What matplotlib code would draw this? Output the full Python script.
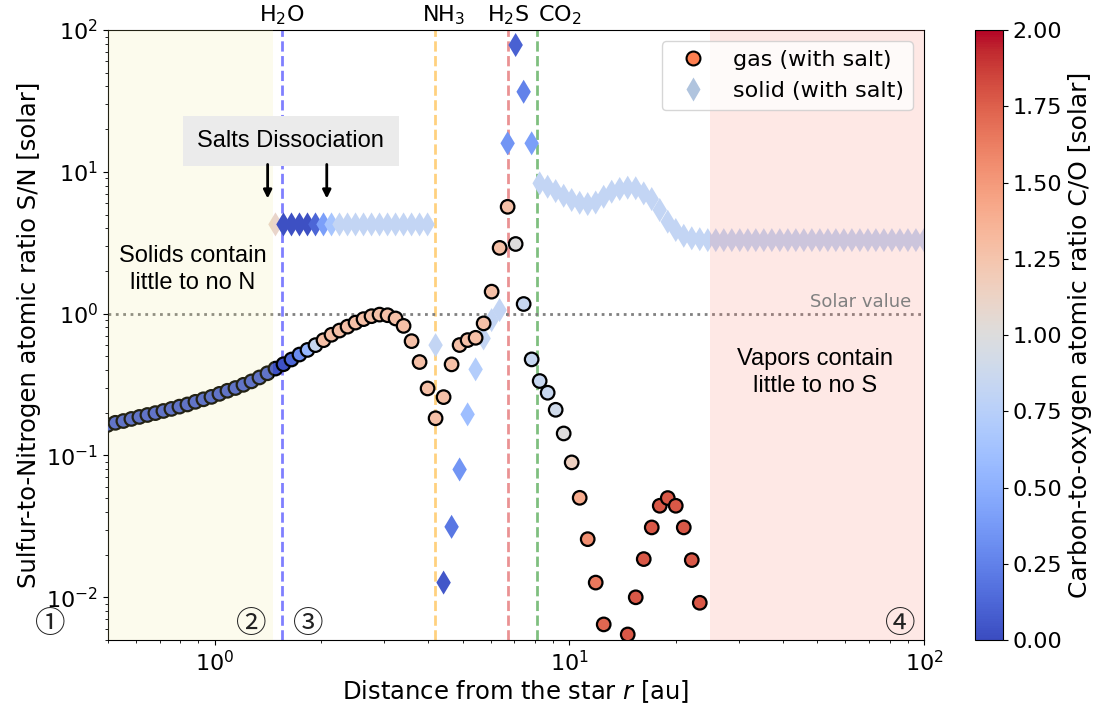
import numpy as np
import matplotlib
matplotlib.use('Agg')
import matplotlib.pyplot as plt
from matplotlib.lines import Line2D

# radial grid of the disk model [au]
r = np.geomspace(0.498, 100, 103)

# gas phase S/N and C/O, grid cells 0..74 (nan = below plotted range)
gas_sn = [0.164, 0.170, 0.175, 0.181, 0.187, 0.193, 0.199, 0.206, 0.213, 0.221,
          0.229, 0.239, 0.249, 0.259, 0.272, 0.286, 0.299, 0.315, 0.333, 0.355,
          0.380, 0.410, 0.440, 0.475, 0.515, 0.555, 0.600, 0.650, 0.710, 0.760,
          0.810, 0.865, 0.915, 0.960, 0.985, 0.975, 0.925, 0.820, 0.640, 0.456,
          0.297, 0.183, 0.258, 0.439, 0.601, 0.651, 0.676, 0.854, 1.43, 2.91,
          5.67, 3.10, 1.17, 0.476, 0.335, 0.277, 0.210, 0.143, 0.0894, 0.0503,
          0.0257, 0.0127, 0.00644, np.nan, np.nan, 0.00547, 0.0100, 0.0186, 0.0311, 0.0442,
          0.0501, 0.0442, 0.0311, 0.0183, 0.00915]
gas_co = [0.1] * 21 + [0.03, 0.03, 0.12, 0.3, 0.55, 0.85] + [1.28] * 24 + \
         [1.0, 0.85, 0.85, 0.85, 0.85, 0.9, 1.0, 1.15, 1.4, 1.55,
          1.65, 1.72, 1.75, 1.75, 1.78, 1.78, 1.78, 1.78, 1.78, 1.78,
          1.78, 1.78, 1.78, 1.78]

# solid phase S/N and C/O, grid cells 21..102
solid_start = 21
solid_sn = [4.26] * 20 + \
           [0.60, 0.0127, 0.0314, 0.0797, 0.195, 0.405, 0.669, 0.901, 1.06, 15.9,
            78.4, 36.7, 15.9, 8.30, 7.85, 7.32, 6.78, 6.33, 6.05, 5.93,
            6.08, 6.67, 7.24, 7.57, 7.73, 7.66, 7.05, 6.43, 5.38, 4.45,
            3.89, 3.54, 3.40, 3.35] + [3.30] * 28
solid_co = [1.1, 0.02, 0.02, 0.02, 0.02, 0.12, 0.4, 0.65] + [0.82] * 13 + \
           [0.05, 0.2, 0.35, 0.6, 0.72, 0.82, 0.82, 0.82, 0.35, 0.1, 0.25, 0.4] + [0.82] * 49

# snowlines [au]
ice_names = [r'H$_2$O', r'NH$_3$', r'H$_2$S', r'CO$_2$']
ice_r = [1.55, 4.18, 6.71, 8.11]
ice_label_r = [1.55, 4.43, 6.71, 9.41]
ice_colors = ['blue', 'orange', 'tab:red', 'green']

gas_sn = np.array(gas_sn)
gas_r = r[:len(gas_sn)]
solid_r = r[solid_start:solid_start + len(solid_sn)]

fig = plt.figure(figsize=(11.04, 7.05), dpi=100)
ax = fig.add_axes([0.0978, 0.0922, 0.7391, 0.8652])
cax = fig.add_axes([0.883, 0.0922, 0.0254, 0.8652])

cmap = plt.get_cmap('coolwarm')
norm = matplotlib.colors.Normalize(0, 2)

ax.scatter(solid_r, solid_sn, c=solid_co, cmap=cmap, norm=norm, marker='d',
           s=150, linewidths=0, zorder=2)
ax.scatter(gas_r, gas_sn, c=gas_co, cmap=cmap, norm=norm, marker='o',
           s=95, edgecolors='black', linewidths=1.6, zorder=3)

# regions
ax.axvspan(0.4, 1.46, color='khaki', alpha=0.15, lw=0, zorder=4)
ax.axvspan(25, 120, color='salmon', alpha=0.18, lw=0, zorder=4)

for name, x, xl, c in zip(ice_names, ice_r, ice_label_r, ice_colors):
    ax.axvline(x, color=c, ls='--', lw=2, alpha=0.5, zorder=1)
    ax.text(xl, 1.005, name, transform=ax.get_xaxis_transform(), ha='center',
            va='bottom', fontsize=16)

ax.axhline(1, color='gray', ls=':', lw=2, zorder=1)
ax.text(0.985, 1.04, 'Solar value', transform=ax.get_yaxis_transform(),
        ha='right', va='bottom', color='gray', fontsize=13, zorder=6)

ax.set_xscale('log')
ax.set_yscale('log')
ax.set_xlim(0.5, 100)
ax.set_ylim(0.005, 100)
ax.tick_params(labelsize=16)
ax.set_xlabel('Distance from the star $r$ [au]', fontsize=17.5, labelpad=2)
ax.set_ylabel('Sulfur-to-Nitrogen atomic ratio S/N [solar]', fontsize=17.5)

# annotations
ax.text(1.64, 16.5, 'Salts Dissociation', ha='center', va='center', fontsize=17,
        family='Liberation Sans', zorder=6,
        bbox=dict(boxstyle='square,pad=0.6', fc='#ebebeb', ec='none'))
for xa in [1.41, 2.07]:
    ax.annotate('', xy=(xa, 6.2), xytext=(xa, 11.8), zorder=6,
                arrowprops=dict(arrowstyle='-|>', color='black', lw=2, mutation_scale=12))
ax.text(0.868, 2.05, 'Solids contain\nlittle to no N', ha='center', va='center',
        fontsize=17, family='Liberation Sans', linespacing=1.25, zorder=6)
ax.text(49.3, 0.385, 'Vapors contain\nlittle to no S', ha='center', va='center',
        fontsize=17, family='Liberation Sans', linespacing=1.25, zorder=6)

for s, xf in zip(['①', '②', '③', '④'], [-0.071, 0.176, 0.245, 0.971]):
    ax.text(xf, 0.026, s, transform=ax.transAxes, ha='center', va='center',
            fontsize=22, color='#222222', zorder=6, clip_on=False,
            family=['Noto Sans CJK JP', 'DejaVu Sans'])

handles = [Line2D([], [], ls='', marker='o', markersize=10, mfc='coral', mec='black', mew=1.5),
           Line2D([], [], ls='', marker='d', markersize=12, mfc='lightsteelblue', mec='none')]
leg = ax.legend(handles, ['gas (with salt)', 'solid (with salt)'], loc='upper right', fontsize=16)
leg.set_zorder(7)

sm = matplotlib.cm.ScalarMappable(norm=norm, cmap=cmap)
cb = fig.colorbar(sm, cax=cax, ticks=np.arange(0, 2.01, 0.25), format='%.2f')
cb.ax.tick_params(labelsize=16)
cb.set_label('Carbon-to-oxygen atomic ratio C/O [solar]', fontsize=18)

fig.savefig('out.png', dpi=100)
